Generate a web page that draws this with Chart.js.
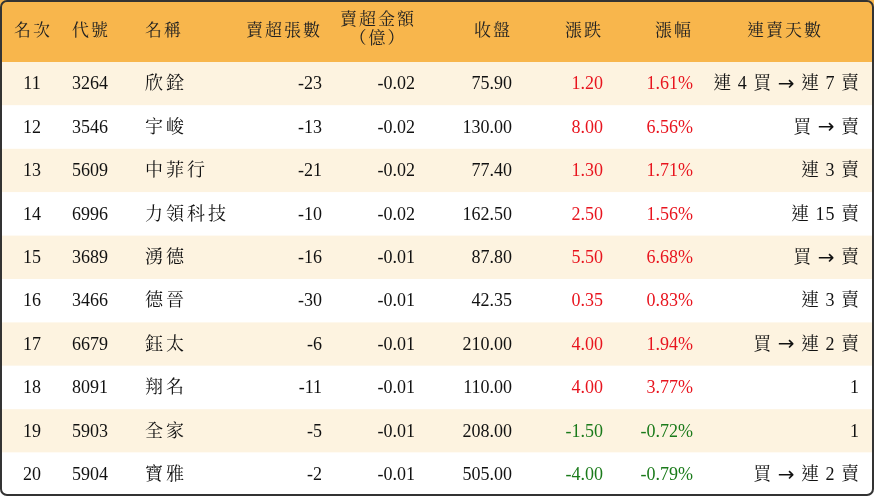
<!DOCTYPE html><html><head><meta charset="utf-8">
<script src="https://cdn.jsdelivr.net/npm/chart.js@4"></script>
<style>html,body{margin:0;padding:0;background:#fff}#w{width:874px;height:496px}</style></head><body><div id="w"><canvas id="c"></canvas></div>
<script>
const headers=['名次','代號','名稱','賣超張數','賣超金額\n（億）','收盤','漲跌','漲幅','連賣天數'];
const ranks=['11','12','13','14','15','16','17','18','19','20'];
const codes=['3264','3546','5609','6996','3689','3466','6679','8091','5903','5904'];
const names=['欣銓','宇峻','中菲行','力領科技','湧德','德晉','鈺太','翔名','全家','寶雅'];
const sellQty=[-23,-13,-21,-10,-16,-30,-6,-11,-5,-2];
const sellAmt=[-0.02,-0.02,-0.02,-0.02,-0.01,-0.01,-0.01,-0.01,-0.01,-0.01];
const closes=[75.90,130.00,77.40,162.50,87.80,42.35,210.00,110.00,208.00,505.00];
const changes=[1.20,8.00,1.30,2.50,5.50,0.35,4.00,4.00,-1.50,-4.00];
const pcts=[1.61,6.56,1.71,1.56,6.68,0.83,1.94,3.77,-0.72,-0.79];
const streaks=['連 4 買 → 連 7 賣','買 → 賣','連 3 賣','連 15 賣','買 → 賣','連 3 賣','買 → 連 2 賣','1','1','買 → 連 2 賣'];

const F='"Liberation Serif","Noto Serif CJK TC","Noto Sans CJK TC",serif';
const cols=[{x:32,a:'center'},{x:72,a:'left'},{x:145,a:'left'},{x:322,a:'right'},{x:415,a:'right'},{x:512,a:'right'},{x:603,a:'right'},{x:693,a:'right'},{x:860,a:'right'}];
const tablePlugin={id:'table',afterDraw(ch){
 const c=ch.ctx,ys=ch.scales.y,W=ch.width,H=ch.height;
 c.save();
 const band=ys.getPixelForValue(1)-ys.getPixelForValue(0);
 const top=ch.chartArea.top;
 c.fillStyle='#f8b64c';c.fillRect(0,0,W,top);
 ranks.forEach((r,i)=>{
  const yc=ys.getPixelForValue(i);
  c.fillStyle=i%2===0?'#fdf3e0':'#ffffff';c.fillRect(0,yc-band/2,W,band);
  const red='#e8141e',green='#1a7a1a',blk='#111';
  const cc=changes[i]>=0?red:green;
  const vals=[[r,blk],[codes[i],blk],[names[i],blk],[String(sellQty[i]),blk],[sellAmt[i].toFixed(2),blk],[closes[i].toFixed(2),blk],[changes[i].toFixed(2),cc],[pcts[i].toFixed(2)+'%',cc],[streaks[i],blk]];
  vals.forEach((v,k)=>{c.fillStyle=v[1];c.textAlign=cols[k].a;c.textBaseline='middle';
   c.font='18px '+F;
   c.letterSpacing=(k===2?'3px':k===8?'1px':'0px');
   if(k===8){
     // draw arrow larger by splitting
     const parts=v[0].split('→');
     if(parts.length===2){
       c.textAlign='right';
       const rw=c.measureText(parts[1]).width;
       c.fillText(parts[1],cols[k].x,yc+1);
       c.font='20px "DejaVu Sans",sans-serif';
       const aw=c.measureText('→').width;
       c.fillText('→',cols[k].x-rw,yc+1);
       c.font='18px '+F;
       c.fillText(parts[0],cols[k].x-rw-aw,yc+1);
       return;
     }
   }
   c.fillText(v[0],cols[k].x,yc+1);});
 });
 c.letterSpacing='2px';c.fillStyle='#222';c.font='17px '+F;c.textBaseline='middle';
 headers.forEach((h,k)=>{
  let x=cols[k].x,a=cols[k].a;
  if(k===0){x=14;a='left';}
  if(k===8){x=785;a='center';}
  if(k===4){x=378;a='center';}
  c.textAlign=a;
  const ls=h.split('\n');
  if(ls.length===1)c.fillText(h,x,top/2+1);
  else {c.fillText(ls[0],x,top/2-10);c.fillText(ls[1],x,top/2+9);}
 });
 c.strokeStyle='#333';c.lineWidth=2;
 c.beginPath();c.roundRect(1,1,W-2,H-2,6);c.stroke();
 c.restore();
}};
new Chart(document.getElementById('c'),{type:'bar',
 data:{labels:ranks,datasets:[{data:sellQty.map(()=>null)}]},
 options:{responsive:true,maintainAspectRatio:false,animation:false,indexAxis:'y',
  layout:{padding:{top:62,bottom:0,left:0,right:0}},
  plugins:{legend:{display:false},tooltip:{enabled:false}},
  scales:{y:{type:'category',display:false,offset:true},x:{display:false}}},
 plugins:[tablePlugin]});
</script></body></html>
